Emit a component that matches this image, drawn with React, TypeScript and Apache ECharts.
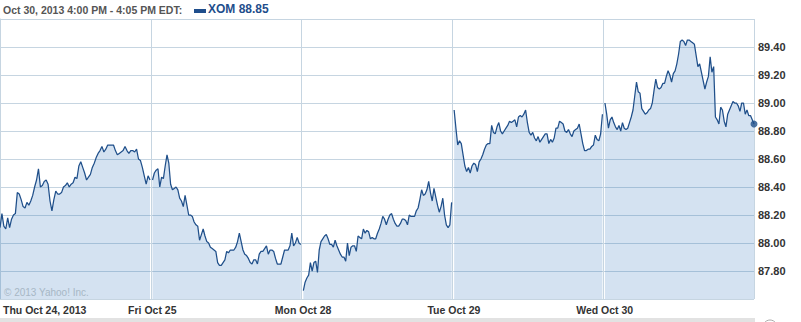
import React, { useEffect, useRef } from "react";
import * as echarts from "echarts";

const DAY_LABELS = ["Thu Oct 24, 2013", "Fri Oct 25", "Mon Oct 28", "Tue Oct 29", "Wed Oct 30"];
const SLOTS_PER_DAY = 78;

const thu = [88.11, 88.21, 88.12, 88.10, 88.18, 88.11, 88.17, 88.20, 88.21, 88.36, 88.35, 88.31, 88.26, 88.25, 88.29, 88.27, 88.30, 88.34, 88.40, 88.45, 88.53, 88.40, 88.41, 88.44, 88.45, 88.42, 88.30, 88.23, 88.31, 88.37, 88.35, 88.35, 88.36, 88.40, 88.41, 88.43, 88.40, 88.42, 88.43, 88.47, 88.46, 88.55, 88.58, 88.54, 88.50, 88.45, 88.47, 88.49, 88.54, 88.57, 88.61, 88.64, 88.66, 88.69, 88.65, 88.67, 88.70, 88.70, 88.70, 88.70, 88.66, 88.63, 88.64, 88.65, 88.66, 88.69, 88.66, 88.64, 88.66, 88.66, 88.65, 88.67, 88.60, 88.59, 88.54, 88.48, 88.42, 88.48, 88.45];
const fri = [88.45, 88.50, 88.52, 88.53, 88.40, 88.47, 88.46, 88.55, 88.63, 88.57, 88.42, 88.38, 88.39, 88.40, 88.38, 88.32, 88.30, 88.26, 88.34, 88.27, 88.20, 88.20, 88.19, 88.15, 88.13, 88.12, 88.02, 88.06, 88.10, 88.05, 88.01, 88.00, 87.97, 87.96, 87.95, 87.94, 87.86, 87.84, 87.84, 87.86, 87.88, 87.94, 87.93, 87.95, 87.95, 87.95, 87.97, 88.01, 88.07, 88.01, 87.95, 87.92, 87.91, 87.89, 87.86, 87.85, 87.88, 87.88, 87.85, 87.92, 87.94, 87.94, 87.96, 87.98, 87.92, 87.95, 87.95, 87.94, 87.89, 87.85, 87.85, 87.85, 87.90, 87.95, 87.95, 87.95, 87.98, 88.07, 87.98, 88.00, 88.04, 88.00, 87.99];
const mon = [87.66, 87.72, 87.75, 87.77, 87.86, 87.80, 87.86, 87.87, 87.79, 87.95, 88.01, 88.03, 88.05, 88.06, 88.03, 87.99, 87.99, 87.97, 88.02, 87.98, 87.95, 87.92, 87.90, 87.90, 87.87, 88.00, 87.91, 87.97, 87.98, 87.98, 87.94, 88.05, 88.04, 88.03, 88.10, 88.07, 88.09, 88.08, 88.03, 88.04, 88.03, 88.03, 88.07, 88.10, 88.14, 88.19, 88.17, 88.13, 88.17, 88.20, 88.21, 88.17, 88.14, 88.12, 88.12, 88.14, 88.17, 88.17, 88.16, 88.13, 88.20, 88.19, 88.19, 88.19, 88.23, 88.25, 88.31, 88.38, 88.34, 88.35, 88.38, 88.44, 88.36, 88.30, 88.39, 88.33, 88.27, 88.22, 88.26, 88.32, 88.20, 88.13, 88.11, 88.13, 88.29];
const tue = [88.95, 88.82, 88.70, 88.73, 88.71, 88.63, 88.55, 88.51, 88.54, 88.50, 88.55, 88.57, 88.56, 88.51, 88.58, 88.60, 88.63, 88.67, 88.70, 88.71, 88.71, 88.84, 88.79, 88.78, 88.83, 88.86, 88.80, 88.78, 88.80, 88.82, 88.84, 88.87, 88.86, 88.87, 88.88, 88.83, 88.90, 88.91, 88.90, 88.92, 88.95, 88.86, 88.79, 88.77, 88.79, 88.75, 88.73, 88.76, 88.72, 88.74, 88.76, 88.78, 88.78, 88.71, 88.74, 88.72, 88.75, 88.82, 88.82, 88.87, 88.86, 88.85, 88.80, 88.79, 88.81, 88.78, 88.76, 88.80, 88.81, 88.82, 88.85, 88.78, 88.71, 88.66, 88.66, 88.67, 88.67, 88.69, 88.70, 88.77, 88.74, 88.73, 88.78, 88.92];
const wed = [89.00, 88.92, 88.82, 88.88, 88.90, 88.86, 88.83, 88.81, 88.84, 88.80, 88.86, 88.82, 88.81, 88.82, 88.86, 88.90, 88.95, 89.05, 89.15, 89.08, 89.07, 88.96, 88.94, 88.92, 88.93, 88.95, 88.96, 89.00, 89.09, 89.17, 89.11, 89.10, 89.11, 89.14, 89.14, 89.19, 89.23, 89.20, 89.15, 89.21, 89.23, 89.28, 89.35, 89.44, 89.45, 89.44, 89.41, 89.45, 89.45, 89.44, 89.43, 89.42, 89.34, 89.26, 89.28, 89.22, 89.16, 89.10, 89.15, 89.19, 89.33, 89.22, 89.26, 88.90, 88.88, 88.85, 88.97, 88.95, 88.87, 88.83, 88.92, 88.95, 88.98, 89.01, 89.00, 89.00, 88.98, 88.94, 89.00, 89.00, 88.92, 88.95, 88.91, 88.91, 88.88, 88.85];

const DAYS = [thu, fri, mon, tue, wed];
const TICKER = "XOM";
const HEADER = "Oct 30, 2013 4:00 PM - 4:05 PM EDT:";
const WATERMARK = "\u00a9 2013 Yahoo! Inc.";

const GRID = "#c6d5e1";
const LINE = "#1f4f8a";
const FONT = "'Liberation Sans', Arial, sans-serif";

function buildData() {
  const out: any[] = [];
  DAYS.forEach((arr, d) => {
    const start = d * SLOTS_PER_DAY + (d === 0 ? 0 : 0.9);
    const end = d * SLOTS_PER_DAY + (d === DAYS.length - 1 ? SLOTS_PER_DAY : SLOTS_PER_DAY - 0.4);
    arr.forEach((v, i) => {
      out.push([start + ((end - start) * i) / (arr.length - 1), v]);
    });
    if (d < DAYS.length - 1) out.push([(d + 1) * SLOTS_PER_DAY, "-"]);
  });
  return out;
}

export default function App() {
  const ref = useRef<HTMLDivElement>(null);
  useEffect(() => {
    if (!ref.current) return;
    const chart = echarts.init(ref.current, null, { renderer: "svg" });
    const data = buildData();
    const last = wed[wed.length - 1];
    const xMax = DAYS.length * SLOTS_PER_DAY;
    chart.setOption({
      animation: false,
      grid: { left: 0, right: 47, top: 19, bottom: 23 },
      xAxis: {
        type: "value",
        min: 0,
        max: xMax,
        interval: SLOTS_PER_DAY,
        axisLine: { show: false },
        axisTick: { show: false },
        splitLine: { show: true, lineStyle: { color: GRID, width: 1 } },
        axisLabel: {
          formatter: (v: number) => DAY_LABELS[Math.round(v / SLOTS_PER_DAY)] ?? "",
          alignMinLabel: "left",
          showMaxLabel: false,
          color: "#333",
          fontWeight: "bold",
          fontSize: 10.5,
          fontFamily: FONT,
          margin: 5,
          padding: [0, 0, 0, 3],
        },
      },
      yAxis: {
        type: "value",
        position: "right",
        min: 87.6,
        max: 89.6,
        interval: 0.2,
        axisLine: { show: true, lineStyle: { color: GRID } },
        axisTick: { show: true, length: 3, lineStyle: { color: GRID } },
        splitLine: { show: true, lineStyle: { color: GRID, width: 1 } },
        axisLabel: {
          formatter: (v: number) => v.toFixed(2),
          showMinLabel: false,
          showMaxLabel: false,
          color: "#333",
          fontWeight: "bold",
          fontSize: 11,
          fontFamily: FONT,
          margin: 4,
        },
      },
      series: [
        {
          type: "line",
          data,
          symbol: "none",
          showSymbol: false,
          connectNulls: false,
          lineStyle: { color: LINE, width: 1.25 },
          areaStyle: { color: "rgba(28,100,178,0.19)", opacity: 1, origin: "start" },
          z: 2,
        },
        {
          type: "scatter",
          data: [[xMax, last]],
          symbolSize: 7,
          clip: false,
          itemStyle: { color: LINE },
          z: 3,
        },
      ],
      graphic: [
        {
          type: "text",
          left: 3,
          top: 4,
          style: { text: HEADER, fill: "#555", font: `bold 10.5px ${FONT}` },
        },
        {
          type: "rect",
          shape: { x: 194, y: 9, width: 12, height: 4 },
          style: { fill: "#1f4e8c" },
        },
        {
          type: "text",
          left: 208,
          top: 3,
          style: { text: `${TICKER} ${last.toFixed(2)}`, fill: "#1f4e8c", font: `bold 12px ${FONT}` },
        },
        {
          type: "text",
          left: 4,
          top: 287,
          style: { text: WATERMARK, fill: "#a7b7c5", font: `10px ${FONT}` },
          z: 10,
        },
        {
          type: "rect",
          shape: { x: 0, y: 318, width: 755, height: 4 },
          style: { fill: "#e2e2e2" },
        },
        {
          type: "circle",
          shape: { cx: 770, cy: 327, r: 7 },
          style: { fill: "#fff", stroke: "#aaa", lineWidth: 1 },
        },
      ],
    });
    return () => chart.dispose();
  }, []);
  return (
    <div
      ref={ref}
      style={{ position: "absolute", left: 0, top: 0, width: 801, height: 322, background: "#fff" }}
    />
  );
}
